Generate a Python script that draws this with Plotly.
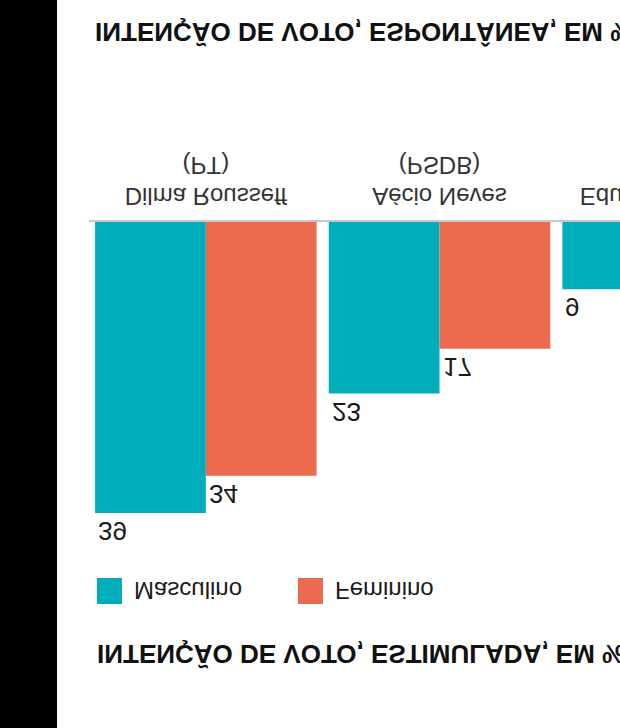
import plotly.graph_objects as go

candidatos = ["Dilma Rousseff", "Aécio Neves", "Eduardo Campos"]
partidos = ["PT", "PSDB", "PSB"]
masculino = [39, 23, 9]
feminino = [34, 17, 6]  # Campos feminino fica fora do quadro, valor estimado

titulo = "INTENÇÃO DE VOTO, ESPONTÂNEA, EM %"
titulo_seguinte = "INTENÇÃO DE VOTO, ESTIMULADA, EM %"
series = ["Masculino", "Feminino"]

AZUL = "#00adbb"
LARANJA = "#ec6a4f"
FONTE = "Liberation Sans"

# the page is wider than the window, the window crops it like the reference
W, H = 790, 728
ML, MB = 89, 222
BARGAP = 0.052


def paper(x, y):
    # page pixel -> paper coords of the plot area
    return (x - ML) / (W - ML), 1 - y / (H - MB)


fig = go.Figure()
for nome, valores, cor in ((series[0], masculino, AZUL), (series[1], feminino, LARANJA)):
    fig.add_trace(go.Bar(
        x=list(range(len(candidatos))),
        y=valores,
        name=nome,
        marker=dict(color=cor, line=dict(width=0)),
        showlegend=False,
    ))

# value labels, left aligned on each bar
meia = (1 - BARGAP) / 2
for i in range(len(candidatos)):
    for v, desl in ((masculino[i], -meia), (feminino[i], 0)):
        fig.add_annotation(
            x=i + desl, y=v, text=str(v),
            xanchor="left", yanchor="bottom", showarrow=False,
            xshift=1, yshift=1,
            font=dict(family=FONTE, size=26, color="#1a1a1a"),
        )

# legend drawn by hand (plotly squares are too small)
for k, (nome, cor) in enumerate(((series[0], AZUL), (series[1], LARANJA))):
    x0 = 97 + k * 201
    a = paper(x0, 124)
    b = paper(x0 + 25, 150)
    fig.add_shape(type="rect", xref="paper", yref="paper",
                  x0=a[0], x1=b[0], y0=b[1], y1=a[1],
                  fillcolor=cor, line=dict(width=0))
    t = paper(x0 + 35, 137)
    fig.add_annotation(xref="paper", yref="paper", x=t[0], y=t[1], text=nome,
                       xanchor="left", yanchor="middle", showarrow=False,
                       font=dict(family=FONTE, size=24, color="#1a1a1a"))

# next chart heading, cut by the frame
t = paper(95, 74)
fig.add_annotation(xref="paper", yref="paper", x=t[0], y=t[1], text=titulo_seguinte,
                   xanchor="left", yanchor="middle", showarrow=False,
                   font=dict(family=FONTE, size=26, color="#111111", weight="bold"))

# black strip on the left
a = paper(0, 0)
b = paper(57, H)
fig.add_shape(type="rect", xref="paper", yref="paper",
              x0=a[0], x1=b[0], y0=b[1], y1=a[1],
              fillcolor="black", line=dict(width=0))

fig.update_layout(
    width=W, height=H,
    margin=dict(l=ML, r=0, t=0, b=MB),
    barmode="group", bargap=BARGAP, bargroupgap=0,
    paper_bgcolor="white", plot_bgcolor="white",
    title=dict(text=titulo, x=95 / W, xanchor="left", xref="container",
               y=(H - 696) / H, yanchor="middle", yref="container",
               font=dict(family=FONTE, size=26, color="#111111", weight="bold")),
    font=dict(family=FONTE),
)
fig.update_xaxes(
    range=[-0.5, len(candidatos) - 0.5],
    tickvals=list(range(len(candidatos))),
    ticktext=[f"{c}<br>({p})" for c, p in zip(candidatos, partidos)],
    tickfont=dict(family=FONTE, size=24, color="#333333"),
    ticks="", ticklabelstandoff=3,
    showline=True, linecolor="#c8c8c8", linewidth=2,
    showgrid=False, zeroline=False,
)
fig.update_yaxes(range=[0, (H - MB) / 7.46], visible=False)

# the reference is shown upside down, flip the page the same way
flip = ("var gd = document.getElementById('{plot_id}');"
        "gd.style.transform = 'scaleY(-1)';"
        "document.body.style.margin = '0';"
        "document.body.style.overflow = 'hidden';")
fig.write_html("out.html", post_script=flip, config={"displayModeBar": False})
